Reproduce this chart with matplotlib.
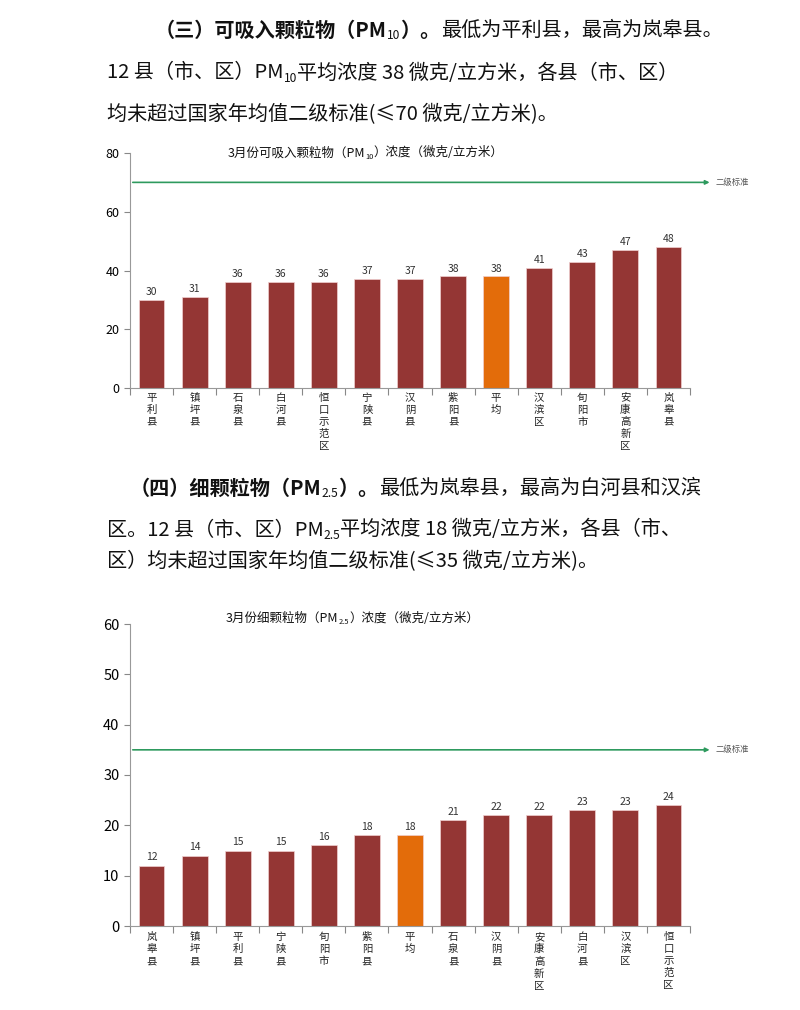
import matplotlib
matplotlib.use("Agg")
import matplotlib.pyplot as plt

plt.rcParams['font.family'] = ['Noto Sans CJK SC', 'DejaVu Sans']

pm10_cats = ["平利县", "镇坪县", "石泉县", "白河县", "恒口示范区", "宁陕县", "汉阴县", "紫阳县", "平均", "汉滨区", "旬阳市", "安康高新区", "岚皋县"]
pm10_vals = [30, 31, 36, 36, 36, 37, 37, 38, 38, 41, 43, 47, 48]
pm25_cats = ["岚皋县", "镇坪县", "平利县", "宁陕县", "旬阳市", "紫阳县", "平均", "石泉县", "汉阴县", "安康高新区", "白河县", "汉滨区", "恒口示范区"]
pm25_vals = [12, 14, 15, 15, 16, 18, 18, 21, 22, 22, 23, 23, 24]

W, H = 800, 1010
fig = plt.figure(figsize=(W/100, H/100), dpi=100)
fig.canvas.draw()
renderer = fig.canvas.get_renderer()

def rich(x, y, pieces, size=14.5):
    for txt, kind in pieces:
        fs = size*0.6 if kind == 'sub' else size
        yy = y + (size*0.4 if kind == 'sub' else 0)
        t = fig.text(x/W, 1-yy/H, txt, fontsize=fs, va='center', ha='left',
                     fontweight='bold' if kind == 'b' else 'normal', color='#111111')
        bb = t.get_window_extent(renderer)
        x += bb.width

rich(155, 30, [("（三）可吸入颗粒物（PM", 'b'), ("10", 'sub'), ("）。", 'b'), ("最低为平利县，最高为岚皋县。", 'n')])
rich(107, 73, [("12 县（市、区）PM", 'n'), ("10", 'sub'), ("平均浓度 38 微克/立方米，各县（市、区）", 'n')])
rich(107, 115, [("均未超过国家年均值二级标准(≤70 微克/立方米)。", 'n')])
rich(130, 488, [("（四）细颗粒物（PM", 'b'), ("2.5", 'sub'), ("）。", 'b'), ("最低为岚皋县，最高为白河县和汉滨", 'n')])
rich(107, 530, [("区。12 县（市、区）PM", 'n'), ("2.5", 'sub'), ("平均浓度 18 微克/立方米，各县（市、", 'n')])
rich(107, 562, [("区）均未超过国家年均值二级标准(≤35 微克/立方米)。", 'n')])

def chart(top, bottom, cats, vals, ymax, step, std, title_pieces, title_xy, ylab):
    left, right = 130, 690
    ax = fig.add_axes([left/W, 1-bottom/H, (right-left)/W, (bottom-top)/H])
    x = list(range(len(cats)))
    colors = ['#E36C0A' if c == "平均" else '#943634' for c in cats]
    ax.bar(x, vals, width=0.6, color=colors, edgecolor='#f0d0d0', linewidth=0.5)
    for xi, v in zip(x, vals):
        ax.text(xi, v+ymax*0.012, str(v), ha='center', va='bottom', fontsize=7.5, color='#333333')
    ax.set_xlim(-0.5, len(cats)-0.5)
    ax.set_ylim(0, ymax)
    ax.set_yticks(range(0, ymax+1, step))
    ax.tick_params(axis='y', labelsize=ylab, length=4, color='#888888')
    ax.set_xticks([i-0.5 for i in range(len(cats)+1)])
    ax.set_xticklabels([])
    ax.tick_params(axis='x', length=5, color='#888888')
    for xi, c in zip(x, cats):
        ax.text(xi, -ymax*0.02, "\n".join(c), ha='center', va='top', fontsize=7.5,
                linespacing=1.25, color='#222222')
    for s in ['top', 'right']:
        ax.spines[s].set_visible(False)
    for s in ['left', 'bottom']:
        ax.spines[s].set_color('#999999')
    ax.annotate("", xy=(1.04, std), xycoords=('axes fraction', 'data'),
                xytext=(0, std), textcoords=('axes fraction', 'data'),
                arrowprops=dict(arrowstyle='-|>', color='#2E9A5E', lw=1.2, mutation_scale=6),
                annotation_clip=False)
    ax.text(1.045, std, "二级标准", transform=ax.get_yaxis_transform(), fontsize=6,
            va='center', ha='left', color='#555555')
    rich(*title_xy, title_pieces, size=9)
    return ax

chart(153, 388, pm10_cats, pm10_vals, 80, 20, 70,
      [("3月份可吸入颗粒物（PM", 'n'), ("10", 'sub'), ("）浓度（微克/立方米）", 'n')], (228, 153), 9)
chart(624, 926, pm25_cats, pm25_vals, 60, 10, 35,
      [("3月份细颗粒物（PM", 'n'), ("2.5", 'sub'), ("）浓度（微克/立方米）", 'n')], (226, 618), 10.5)

fig.savefig("out.png", dpi=100, facecolor='white')
